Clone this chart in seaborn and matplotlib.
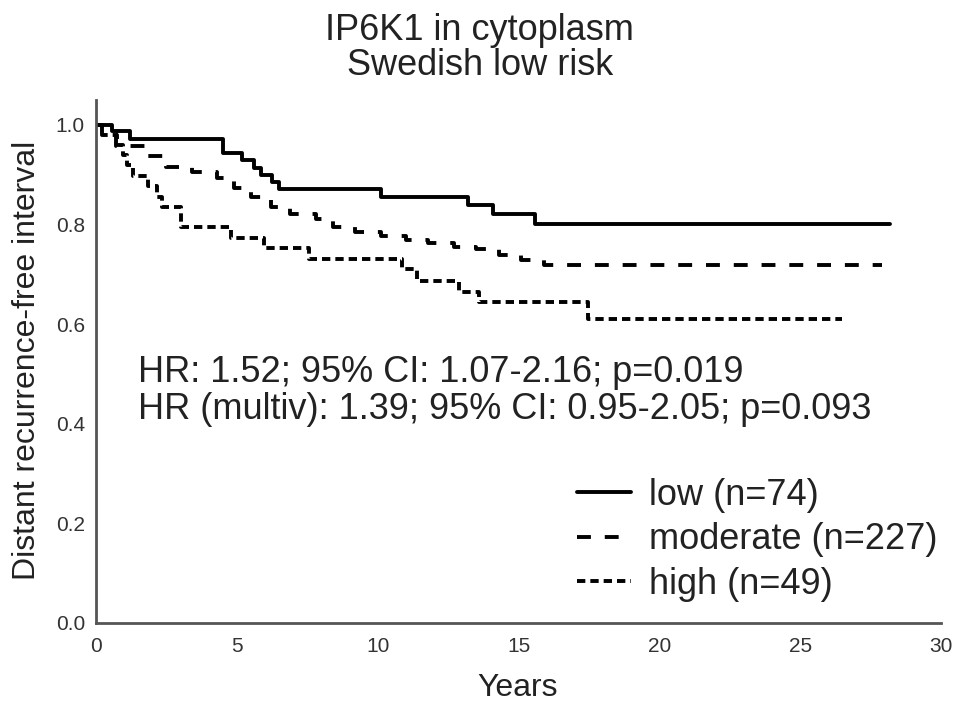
import matplotlib
matplotlib.use("Agg")
import matplotlib.pyplot as plt
import seaborn as sns
import pandas as pd

# ---- data ----
low_t = [0, 0.55, 1.2, 4.5, 5.2, 5.6, 5.85, 6.25, 6.5, 10.1, 13.2, 14.1, 15.6, 28.2]
low_s = [1.0, 0.988, 0.972, 0.944, 0.930, 0.914, 0.900, 0.886, 0.871, 0.855, 0.839, 0.821, 0.802, 0.802]

mod_t = [0, 0.2, 0.7, 1.8, 2.5, 3.4, 4.3, 4.9, 5.5, 6.2, 6.9, 7.8, 8.4, 9.2, 10.1, 11.0,
         11.8, 12.7, 13.5, 14.3, 15.1, 15.9, 27.9]
mod_s = [1.0, 0.984, 0.958, 0.938, 0.916, 0.905, 0.894, 0.874, 0.856, 0.836, 0.822, 0.812,
         0.794, 0.784, 0.776, 0.768, 0.762, 0.754, 0.750, 0.738, 0.728, 0.719, 0.719]

high_t = [0, 0.2, 0.75, 0.95, 1.1, 1.3, 1.85, 2.15, 2.35, 3.0, 4.8, 5.95, 7.55, 10.85,
          11.4, 12.9, 13.6, 17.45, 26.5]
high_s = [1.0, 0.98, 0.96, 0.94, 0.92, 0.897, 0.877, 0.856, 0.836, 0.794, 0.773, 0.753,
          0.731, 0.711, 0.687, 0.665, 0.645, 0.611, 0.611]

groups = ["low (n=74)", "moderate (n=227)", "high (n=49)"]
x_ticks = [0, 5, 10, 15, 20, 25, 30]
y_ticks = [0.0, 0.2, 0.4, 0.6, 0.8, 1.0]
title_lines = ["IP6K1 in cytoplasm", "Swedish low risk"]
stats_lines = ["HR: 1.52; 95% CI: 1.07-2.16; p=0.019",
               "HR (multiv): 1.39; 95% CI: 0.95-2.05; p=0.093"]

# ---- build table ----
frames = []
for name, t, s in zip(groups, [low_t, mod_t, high_t], [low_s, mod_s, high_s]):
    frames.append(pd.DataFrame({"Years": t, "surv": s, "group": name}))
df = pd.concat(frames, ignore_index=True)

sns.set_style("white")
plt.rcParams["font.family"] = ["Liberation Sans", "DejaVu Sans"]
plt.rcParams["lines.scale_dashes"] = False

fig = plt.figure(figsize=(9.69, 7.12), dpi=100)
ax = fig.add_axes([0.0991, 0.125, 0.872, 0.7346])

styles = {
    groups[0]: "-",
    groups[1]: (0, (10, 10)),
    groups[2]: (0, (6.0, 3.6)),
}
for g in groups:
    sub = df[df["group"] == g]
    sns.lineplot(data=sub, x="Years", y="surv", ax=ax, drawstyle="steps-post",
                 estimator=None, sort=False, color="black", lw=2.8,
                 linestyle=styles[g], label=g)

ax.set_xlim(0, 30)
ax.set_ylim(0, 1.05)
ax.set_xticks(x_ticks)
ax.set_yticks(y_ticks)
ax.set_xticklabels([str(v) for v in x_ticks])
ax.set_yticklabels([f"{v:.1f}" for v in y_ticks])
ax.set_xlabel("")
ax.set_ylabel("")

for sp in ["top", "right"]:
    ax.spines[sp].set_visible(False)
for sp in ["left", "bottom"]:
    ax.spines[sp].set_color("#555555")
    ax.spines[sp].set_linewidth(2.0)

ax.tick_params(axis="both", direction="in", length=4, width=1.5, color="#555555",
               labelsize=15, labelcolor="#333333")
ax.tick_params(axis="x", pad=10)
ax.tick_params(axis="y", pad=8)

# stats text
ax.text(1.49, 0.484, stats_lines[0], fontsize=26, color="#222222", va="baseline", ha="left")
ax.text(1.49, 0.410, stats_lines[1], fontsize=26, color="#222222", va="baseline", ha="left")

# legend
leg = ax.legend(loc="upper left", bbox_to_anchor=(0.569, 0.278), frameon=False,
                fontsize=26, handlelength=1.5, handletextpad=0.5, labelspacing=0.27,
                borderpad=0, borderaxespad=0)
for txt in leg.get_texts():
    txt.set_color("#222222")

# titles and axis labels
fig.text(0.495, 1 - 40 / 712, title_lines[0], fontsize=26, ha="center", va="baseline",
         color="#222222")
fig.text(0.495, 1 - 75 / 712, title_lines[1], fontsize=26, ha="center", va="baseline",
         color="#222222")
fig.text(518 / 969, 1 - 688 / 712, "Years", fontsize=23, ha="center", va="center",
         color="#222222")
fig.text(27 / 969, 1 - 360 / 712, "Distant recurrence-free interval", fontsize=23,
         rotation=90, ha="center", va="center", color="#222222")

fig.savefig("out.png", dpi=100)
